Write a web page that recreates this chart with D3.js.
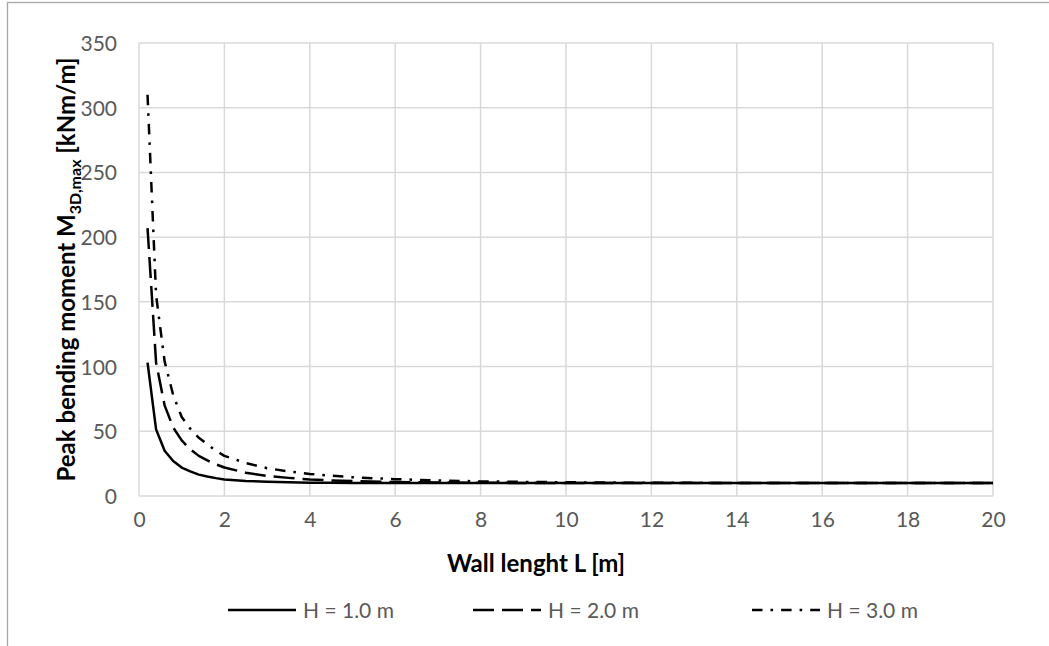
<!DOCTYPE html>
<html>
<head>
<meta charset="utf-8">
<script src="https://cdn.jsdelivr.net/npm/d3@7"></script>
<style>
  html, body { margin: 0; padding: 0; background: #fff; overflow: hidden; }
  svg { display: block; }
  text { font-family: Lato, "Open Sans", sans-serif; }
</style>
</head>
<body>
<svg id="chart" width="1049" height="646"></svg>
<script>
// Wall length L [m] and peak bending moment per wall height
const wallLength = [0.2, 0.4, 0.6, 0.8, 1.0, 1.2, 1.4, 1.6, 1.8, 2.0, 2.5, 3, 3.5, 4, 4.5, 5, 6, 7, 8, 9, 10, 12, 14, 16, 18, 20];
const momentH1 = [103, 51.5, 35, 27, 22, 19, 16.5, 15, 13.8, 12.8, 11.6, 11, 10.6, 10.3, 10.2, 10.1, 10, 10, 10, 10, 10, 10, 10, 10, 10, 10];
const momentH2 = [207, 103, 70, 53, 43, 36, 31, 27.5, 24.5, 22, 18, 15.5, 14, 12.8, 12, 11.5, 10.8, 10.4, 10.2, 10.1, 10, 10, 10, 10, 10, 10];
const momentH3 = [310, 155, 104, 78, 61, 52, 45, 40, 35, 31, 25.5, 21.5, 19, 17, 15.7, 14.5, 13, 12, 11.3, 10.9, 10.6, 10.2, 10.1, 10, 10, 10];
const seriesNames = ["H = 1.0 m", "H = 2.0 m", "H = 3.0 m"];
const xTicks = [0, 2, 4, 6, 8, 10, 12, 14, 16, 18, 20];
const yTicks = [0, 50, 100, 150, 200, 250, 300, 350];

const svg = d3.select("#chart");
const margin = { left: 139, top: 43, right: 1049 - 993, bottom: 646 - 496 };
const W = 1049, H = 646;

// chart area border (right and bottom edges fall outside the picture)
svg.append("rect")
  .attr("x", 7.5).attr("y", 2.5)
  .attr("width", 1300).attr("height", 900)
  .attr("fill", "none").attr("stroke", "#a6a6a6").attr("stroke-width", 1.3);

const x = d3.scaleLinear().domain([0, 20]).range([margin.left, W - margin.right]);
const y = d3.scaleLinear().domain([0, 350]).range([H - margin.bottom, margin.top]);

// gridlines
const grid = svg.append("g").attr("stroke", "#d9d9d9").attr("stroke-width", 1.5);
grid.selectAll("line.h").data(yTicks).join("line")
  .attr("x1", x(0)).attr("x2", x(20))
  .attr("y1", d => y(d)).attr("y2", d => y(d));
grid.selectAll("line.v").data(xTicks).join("line")
  .attr("y1", y(0)).attr("y2", y(350))
  .attr("x1", d => x(d)).attr("x2", d => x(d));

// axes (labels only, Excel style)
const xAxis = svg.append("g")
  .attr("transform", `translate(0,${y(0)})`)
  .call(d3.axisBottom(x).tickValues(xTicks).tickSize(0).tickPadding(16));
const yAxis = svg.append("g")
  .attr("transform", `translate(${x(0)},0)`)
  .call(d3.axisLeft(y).tickValues(yTicks).tickSize(0).tickPadding(22));
[xAxis, yAxis].forEach(a => {
  a.select(".domain").remove();
  a.selectAll("text")
    .attr("fill", "#595959")
    .style("font-size", "21px")
    .style("font-family", "Lato, 'Open Sans', sans-serif");
});
yAxis.selectAll("text").attr("dy", "0.36em");

// axis titles
svg.append("text")
  .attr("x", 536).attr("y", 572)
  .attr("text-anchor", "middle")
  .attr("font-weight", "bold").attr("font-size", 24)
  .text("Wall lenght L [m]");

const yt = svg.append("text")
  .attr("transform", `translate(75,${(y(0) + y(350)) / 2}) rotate(-90)`)
  .attr("text-anchor", "middle")
  .attr("font-weight", "bold").attr("font-size", 24);
yt.append("tspan").text("Peak bending moment M");
yt.append("tspan").attr("font-size", 16).attr("dy", 6).text("3D,max");
yt.append("tspan").attr("dy", -6).text(" [kNm/m]");

// series
const dashes = [null, "21,8", "10.5,8,2.6,8"];
const series = [momentH1, momentH2, momentH3].map((vals, i) => ({
  name: seriesNames[i],
  dash: dashes[i],
  points: wallLength.map((L, j) => [L, vals[j]])
}));

const line = d3.line().x(d => x(d[0])).y(d => y(d[1]));

svg.append("g").selectAll("path").data(series.slice().reverse()).join("path")
  .attr("d", d => line(d.points))
  .attr("fill", "none")
  .attr("stroke", "#000")
  .attr("stroke-width", 2.5)
  .attr("stroke-linejoin", "round")
  .attr("stroke-dasharray", d => d.dash);

// legend
const legendX = [228, 473, 752];
const lg = svg.append("g").selectAll("g").data(series).join("g")
  .attr("transform", (d, i) => `translate(${legendX[i]},610)`);
lg.append("line")
  .attr("x1", 0).attr("x2", 68)
  .attr("stroke", "#000").attr("stroke-width", 2.7)
  .attr("stroke-dasharray", d => d.dash);
lg.append("text")
  .attr("x", 75).attr("dy", "0.36em")
  .attr("fill", "#595959").attr("font-size", 21)
  .text(d => d.name);
</script>
</body>
</html>
